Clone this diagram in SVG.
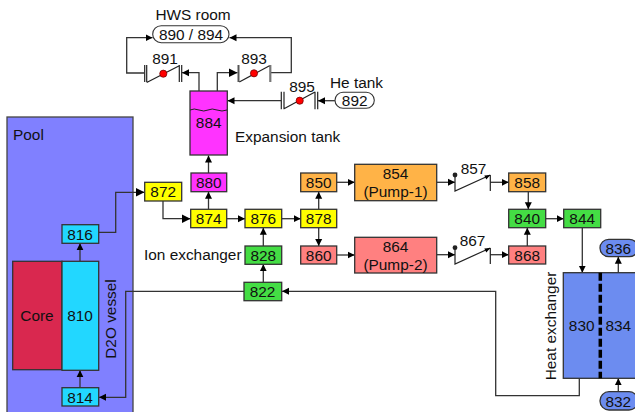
<svg xmlns="http://www.w3.org/2000/svg" width="635" height="412" viewBox="0 0 635 412">
<style>
text{font-family:"Liberation Sans",Arial,sans-serif;font-size:15.4px;fill:#111}
.m{text-anchor:middle}
.b{stroke:#333;stroke-width:1.3}
.c{fill:none;stroke:#333;stroke-width:1.3}
.a{marker-end:url(#ar)}
.A{marker-end:url(#AR)}
.v{fill:none;stroke:#222;stroke-width:1.2}
.r{fill:#f00;stroke:#600;stroke-width:.7}
.cy{fill:#22d7ff}.ye{fill:#ff0}.ma{fill:#ff33ff}.or{fill:#ffb347}.pk{fill:#ff8080}.gr{fill:#44dd44}.bl{fill:#6c8cf0}
</style>
<defs>
<marker id="ar" markerUnits="userSpaceOnUse" markerWidth="8" markerHeight="8" refX="7" refY="4" orient="auto"><path d="M0,0.5L7,4L0,7.5z" fill="#000"/></marker>
<marker id="AR" markerUnits="userSpaceOnUse" markerWidth="10" markerHeight="10" refX="9" refY="5" orient="auto"><path d="M0,0.5L9,5L0,9.5z" fill="#000"/></marker>
</defs>
<g id="pool"><rect x="7" y="117" width="126" height="300" fill="#8080ff" stroke="#444" stroke-width="1.3"/><text x="13" y="140">Pool</text><text transform="translate(116,319) rotate(-90)" class="m">D2O vessel</text></g>
<g id="connectors">
<path class="c a" d="M144,73H126.700V37.700H152.500"/>
<path class="c a" d="M271,72.700H291.300V37.700H229.500"/>
<path class="c a" d="M199,91V72.700H182"/>
<path class="c A" d="M217.300,91V72.700H237.500"/>
<path class="c a" d="M281,100.700H227.500"/>
<path class="c a" d="M335,100.700H318"/>
<path class="c a" d="M208.500,173V155.500"/>
<path class="c a" d="M208.500,209.300V191.700"/>
<path class="c A" d="M98.700,232.300H115.700V192.300H144.500"/>
<path class="c A" d="M163,201V218.700H190.500"/>
<path class="c a" d="M226.700,218.700H245"/>
<path class="c a" d="M281.700,218.700H300.700"/>
<path class="c a" d="M318.700,209.300V191.700"/>
<path class="c a" d="M318.700,227.700V246"/>
<path class="c a" d="M336.700,182.300H354.700"/>
<path class="c a" d="M336.700,255H354.700"/>
<path class="c a" d="M436.700,182.300H455"/>
<path class="c a" d="M436.700,254.700H455"/>
<path class="c a" d="M490.300,182.300H508.700"/>
<path class="c a" d="M490.300,254.700H508.700"/>
<path class="c a" d="M528.300,191.700V209.300"/>
<path class="c a" d="M527.300,246V227.700"/>
<path class="c a" d="M545.700,218.700H563.700"/>
<path class="c a" d="M582.300,227.700V272.700"/>
<path class="c a" d="M618.300,272.700V256.700"/>
<path class="c a" d="M618.300,391.700V378.300"/>
<path class="c a" d="M263.300,246V227.700"/>
<path class="c a" d="M263.300,282.300V264.300"/>
<path class="c a" d="M80,261.300V243.300"/>
<path class="c a" d="M80,387.700V370.300"/>
<path class="c a" d="M244,291.300H125.700V397.300H99"/>
<path class="c a" d="M579.300,378.300V395.700H495.700V291.300H282"/>
</g>
<g id="n884"><rect class="b ma" x="190" y="91" width="37.300" height="64"/><path d="M190,110q4,-2 9,0t9,0t9,0t10,0" fill="none" stroke="#222" stroke-width="1"/><text class="m" x="208.700" y="128">884</text><text x="235" y="142">Expansion tank</text></g>
<g id="n890"><rect x="152.700" y="25.700" width="76.300" height="17" rx="8.500" fill="#fff" stroke="#333" stroke-width="1.100"/><text class="m" x="191" y="39.500">890 / 894</text><text class="m" x="193" y="20">HWS room</text></g>
<g id="n892"><rect x="335" y="92.300" width="39.300" height="16" rx="8" fill="#fff" stroke="#333" stroke-width="1.100"/><text class="m" x="354.700" y="106">892</text><text x="330" y="87.500">He tank</text></g>
<g id="v891"><path class="v" d="M144.700,65V82M146.700,65V82M179.300,65V82M181.700,65V82M146.700,82.500L179.300,65.700"/><circle class="r" cx="163.300" cy="73.700" r="3.600"/><text class="m" x="165" y="64">891</text></g>
<g id="v893"><path d="M238.500,65V82" stroke="#555" stroke-width="2" fill="none"/><path d="M270.300,65V82" stroke="#777" stroke-width="2.200" fill="none"/><path class="v" d="M239.300,82L269.500,65.700"/><circle class="r" cx="254" cy="73.300" r="3.600"/><text class="m" x="254" y="64">893</text></g>
<g id="v895"><path class="v" d="M281.300,91.700V109.300M284,91.700V109.300M315,91.700V109.300M317.700,91.700V109.300M284,108.700L315,92"/><circle class="r" cx="299.700" cy="100.700" r="3.600"/><text class="m" x="302" y="91.500">895</text></g>
<g id="n872"><rect class="b ye" x="144.700" y="182.300" width="37" height="18.700"/><text class="m" x="163.200" y="197">872</text></g>
<g id="n880"><rect class="b ma" x="191" y="173" width="35.700" height="18.700"/><text class="m" x="208.800" y="187.500">880</text></g>
<g id="n874"><rect class="b ye" x="190.700" y="209.300" width="36" height="18.400"/><text class="m" x="208.700" y="224">874</text></g>
<g id="n876"><rect class="b ye" x="245" y="209.300" width="36.700" height="18.400"/><text class="m" x="263.300" y="224">876</text></g>
<g id="n878"><rect class="b ye" x="300.700" y="209.300" width="36" height="18.400"/><text class="m" x="318.700" y="224">878</text></g>
<g id="n828"><rect class="b gr" x="245" y="246" width="36.700" height="18.300"/><text class="m" x="263.300" y="260.500">828</text><text x="144" y="259.500">Ion exchanger</text></g>
<g id="n822"><rect class="b gr" x="244" y="282.300" width="37.700" height="18.400"/><text class="m" x="262.500" y="297">822</text></g>
<g id="n816"><rect class="b cy" x="62" y="224.700" width="36.700" height="18.600"/><text class="m" x="80" y="239.500">816</text></g>
<g id="core"><rect x="12.700" y="261.300" width="49.300" height="108.400" fill="#d9284f" stroke="#333" stroke-width="1.300"/><text class="m" x="37" y="320.500">Core</text></g>
<g id="n810"><rect class="b cy" x="62" y="261.300" width="36.700" height="109"/><text class="m" x="80" y="320.500">810</text></g>
<g id="n814"><rect class="b cy" x="62" y="387.700" width="36.700" height="18.300"/><text class="m" x="80" y="402.500">814</text></g>
<g id="n850"><rect class="b or" x="300.700" y="173" width="36" height="18.700"/><text class="m" x="318.700" y="187.500">850</text></g>
<g id="n860"><rect class="b pk" x="300.700" y="246" width="36" height="18"/><text class="m" x="318.700" y="260.500">860</text></g>
<g id="n854"><rect class="b or" x="354.700" y="164.300" width="82" height="36.400"/><text class="m" x="395.500" y="179">854</text><text class="m" x="395.500" y="197">(Pump-1)</text></g>
<g id="n864"><rect class="b pk" x="354.700" y="237.300" width="82" height="35.700"/><text class="m" x="395.500" y="251.500">864</text><text class="m" x="395.500" y="269.500">(Pump-2)</text></g>
<g id="v857"><path class="v" d="M455,175V191L490.300,175M490.300,175V191"/><circle cx="455" cy="175" r="2.400" fill="#222"/><path d="M490.300,175l-6,.5l2,4z" fill="#000"/><text class="m" x="473.500" y="173.500">857</text></g>
<g id="v867"><path class="v" d="M455,248V264L490.300,248M490.300,248V264"/><circle cx="455" cy="247.700" r="2.400" fill="#222"/><path d="M490.300,248l-6,.5l2,4z" fill="#000"/><text class="m" x="472.500" y="245.500">867</text></g>
<g id="n858"><rect class="b or" x="508.700" y="173" width="37" height="18.700"/><text class="m" x="527.200" y="187.500">858</text></g>
<g id="n840"><rect class="b gr" x="508.700" y="209.300" width="37" height="18.400"/><text class="m" x="527.200" y="224">840</text></g>
<g id="n868"><rect class="b pk" x="508.700" y="246" width="37" height="18"/><text class="m" x="527.200" y="260.500">868</text></g>
<g id="n844"><rect class="b gr" x="563.700" y="209.300" width="37" height="18.400"/><text class="m" x="582.200" y="224">844</text></g>
<g id="hx"><rect class="b bl" x="563.300" y="272.700" width="74" height="105.600"/><path d="M600.300,272.700V378.300" stroke="#000" stroke-width="3.500" stroke-dasharray="8 3" fill="none"/><text class="m" x="581.700" y="330.500">830</text><text class="m" x="618.300" y="330.500">834</text><text class="m" transform="translate(556,326) rotate(-90)">Heat exchanger</text></g>
<g id="n836"><rect class="b bl" x="600" y="239.300" width="38" height="17.400" rx="8.700"/><text class="m" x="618.300" y="253.500">836</text></g>
<g id="n832"><rect class="b bl" x="600" y="391.700" width="38" height="18.300" rx="9"/><text class="m" x="618.300" y="406.500">832</text></g>
</svg>
